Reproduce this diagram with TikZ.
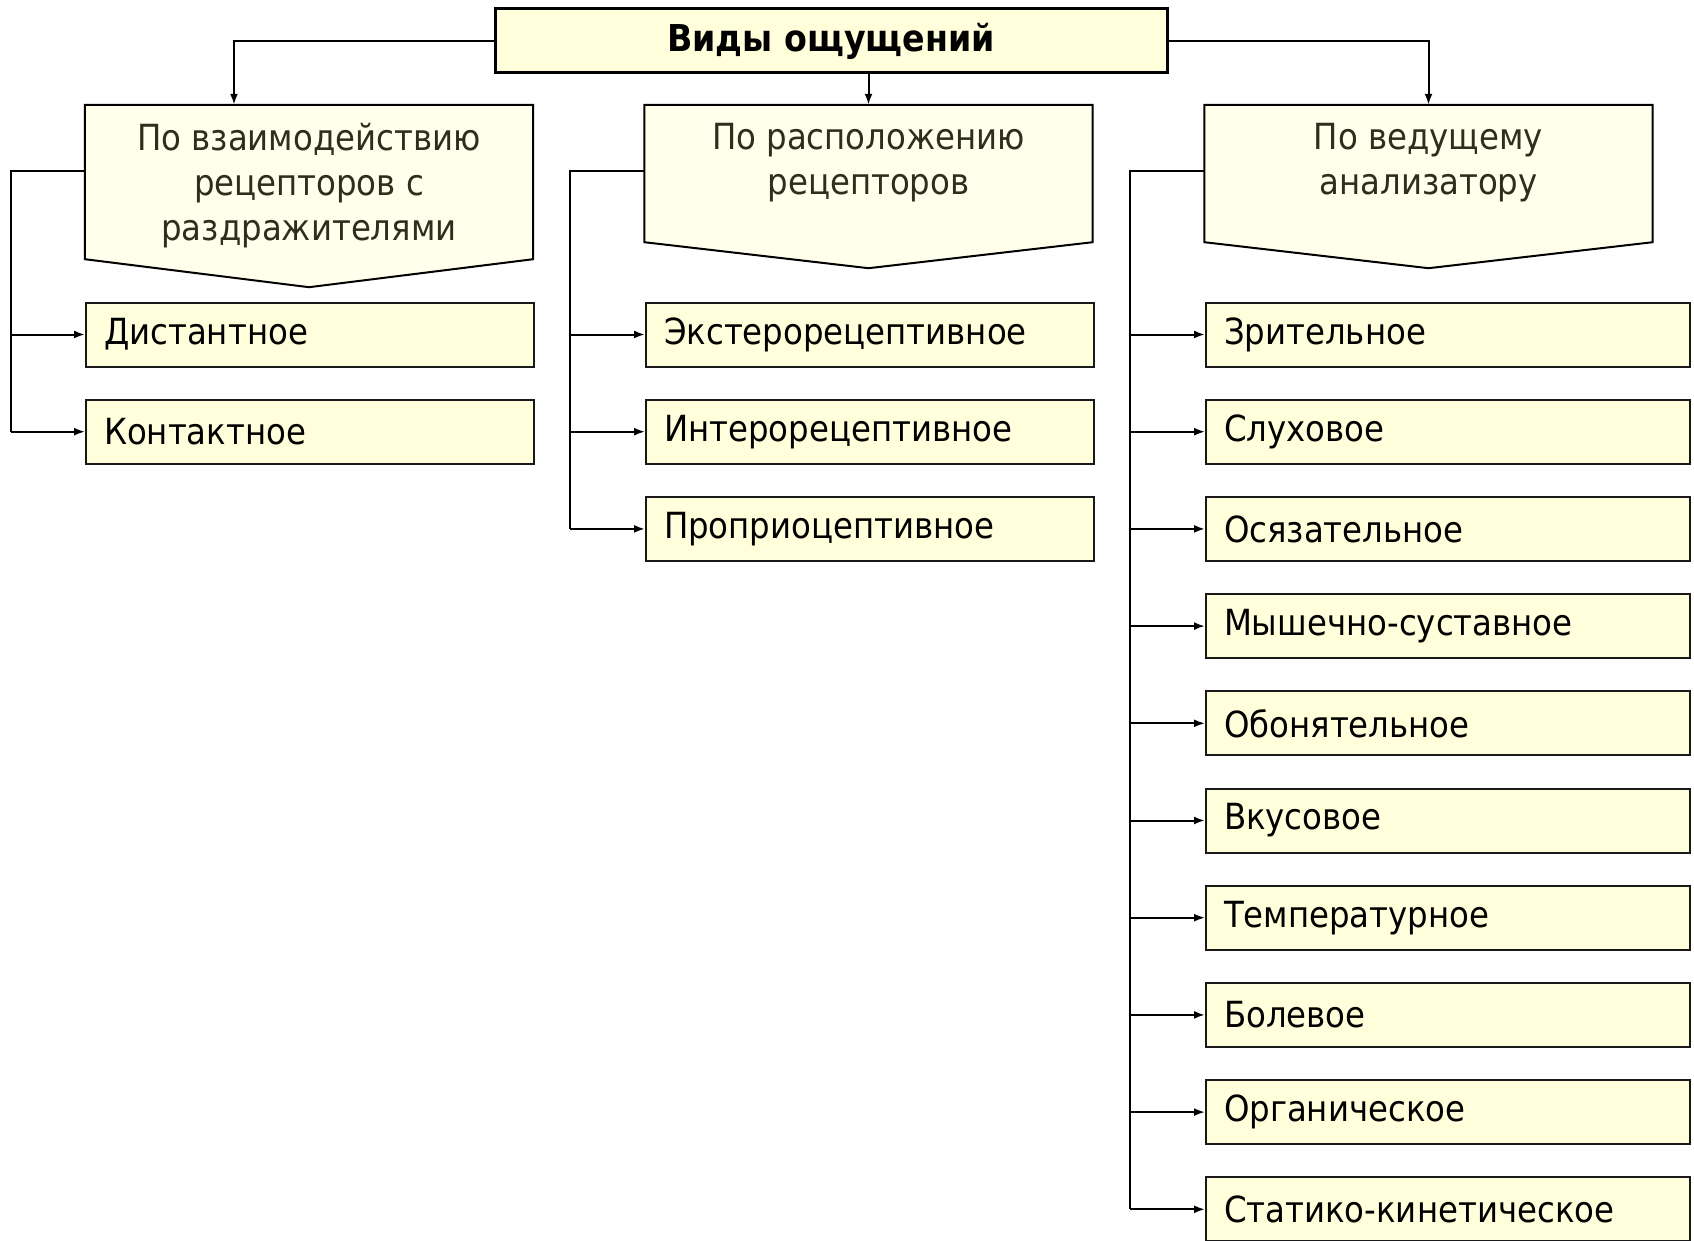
\documentclass[tikz,border=0pt]{standalone}
\usepackage{fontspec}
\setmainfont{DejaVu Sans}[FakeStretch=0.9]
\usetikzlibrary{arrows.meta,calc}
\definecolor{boxfill}{HTML}{FFFFDC}
\definecolor{pentfill}{HTML}{FFFFEC}
\definecolor{pentink}{HTML}{2E2E1E}
\begin{document}
\begin{tikzpicture}[x=1pt,y=-1pt,
  every node/.style={font=\fontsize{36}{45}\selectfont},
  conn/.style={line width=2pt, draw=black},
  arr/.style={conn, -{Latex[length=11pt,width=8pt]}},
  topbox/.style={draw=black, line width=3pt, fill=boxfill, minimum width=672pt, minimum height=64pt, inner sep=0pt},
  item1/.style={draw=black!90, line width=2pt, fill=boxfill, anchor=north west, minimum width=448pt, minimum height=64pt, inner xsep=0pt, text width=412pt, align=left},
  item3/.style={draw=black!90, line width=2pt, fill=boxfill, anchor=north west, minimum width=484pt, minimum height=64pt, inner xsep=0pt, text width=448pt, align=left},
  pentA/.style={draw=none, inner sep=0pt, minimum width=448pt, minimum height=154pt},
  pentB/.style={draw=none, inner sep=0pt, minimum width=448pt, minimum height=137pt},
  pentline/.style={draw=black, line width=2pt, fill=pentfill, line join=miter},
  ptext/.style={text=pentink, align=center, anchor=north, inner sep=0pt}
]
\useasboundingbox (0,0) rectangle (1694,1241);

% title
\node[topbox] (top) at (831,41) {\fontsize{37}{45}\selectfont\raisebox{-2pt}{\textbf{Виды ощущений}}};

% pentagons
\node[pentA] (p1) at (309,182) {};
\node[pentB] (p2) at (868.5,173.5) {};
\node[pentB] (p3) at (1428.5,173.5) {};
\draw[pentline] (p1.north west) -- (p1.north east) -- (p1.south east) -- ($(p1.south)+(0,28)$) -- (p1.south west) -- cycle;
\draw[pentline] (p2.north west) -- (p2.north east) -- (p2.south east) -- ($(p2.south)+(0,26)$) -- (p2.south west) -- cycle;
\draw[pentline] (p3.north west) -- (p3.north east) -- (p3.south east) -- ($(p3.south)+(0,26)$) -- (p3.south west) -- cycle;
\node[ptext] (p1t) at ([yshift=-18pt]p1.north) {По взаимодействию\\рецепторов с\\раздражителями};
\node[ptext] (p2t) at ([yshift=-18pt]p2.north) {По расположению\\рецепторов};
\node[ptext] (p3t) at ([yshift=-18pt]p3.north) {По ведущему\\анализатору};

% top connectors
\draw[arr] (top.west) -| ([xshift=-75pt]p1.north);
\draw[arr] (top.south -| p2.north) -- (p2.north);
\draw[arr] (top.east) -| (p3.north);

% bus positions
\coordinate (by) at (0,171);
\coordinate (x1) at (11,0);
\coordinate (x2) at (570,0);
\coordinate (x3) at (1130,0);

% column 1
\node[item1] (d1) at (85,301.5) {Дистантное};
\node[item1] (d2) at (85,398.7) {Контактное};
\draw[conn] (p1.west |- by) -| (x1 |- d2.west);
\draw[arr] (x1 |- d1.west) -- (d1.west);
\draw[arr] (x1 |- d2.west) -- (d2.west);

% column 2
\node[item1] (e1) at (645,301.5) {Экстерорецептивное};
\node[item1] (e2) at (645,398.7) {Интерорецептивное};
\node[item1] (e3) at (645,495.9) {Проприоцептивное};
\draw[conn] (p2.west |- by) -| (x2 |- e3.west);
\draw[arr] (x2 |- e1.west) -- (e1.west);
\draw[arr] (x2 |- e2.west) -- (e2.west);
\draw[arr] (x2 |- e3.west) -- (e3.west);

% column 3
\foreach \t [count=\i from 0] in {Зрительное,Слуховое,Осязательное,Мышечно-суставное,Обонятельное,Вкусовое,Температурное,Болевое,Органическое,Статико-кинетическое}{
  \node[item3] (c\i) at (1205,{301.5+97.2*\i}) {\t};
  \draw[arr] (x3 |- c\i.west) -- (c\i.west);
}
\draw[conn] (p3.west |- by) -| (x3 |- c9.west);
\end{tikzpicture}
\end{document}
